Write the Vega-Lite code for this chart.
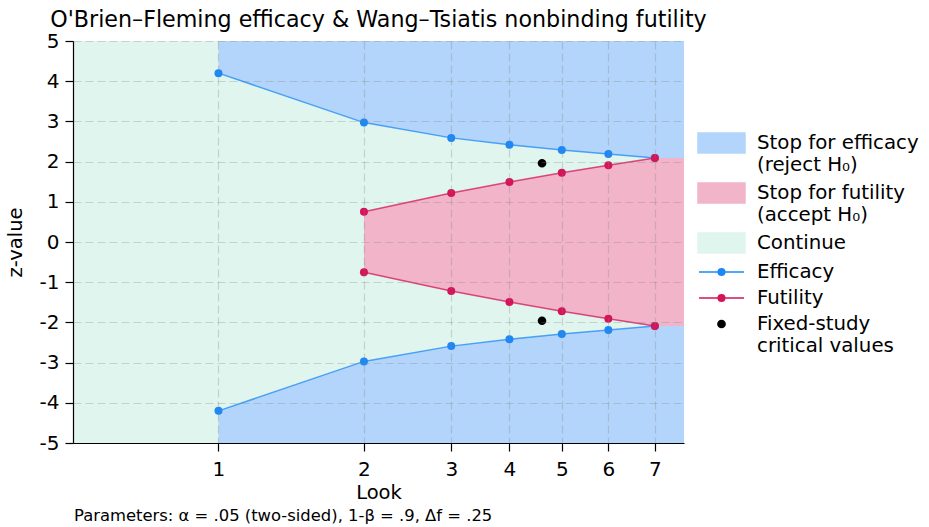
{
  "$schema": "https://vega.github.io/schema/vega-lite/v6.json",
  "background": "white",
  "padding": {"left": 5, "top": 8, "right": 5, "bottom": 5},
  "config": {
    "font": "DejaVu Sans",
    "view": {"stroke": null},
    "axis": {
      "labelFont": "DejaVu Sans",
      "titleFont": "DejaVu Sans",
      "labelFontSize": 20,
      "titleFontSize": 19.5,
      "titleFontWeight": "normal",
      "labelColor": "black",
      "titleColor": "black",
      "domainColor": "black",
      "domainWidth": 1.2,
      "tickColor": "black",
      "tickWidth": 1.2,
      "tickSize": 8,
      "labelPadding": 4,
      "grid": true,
      "gridDash": [8, 4],
      "gridColor": "#808080",
      "gridOpacity": 0.3,
      "gridWidth": 1.2
    },
    "legend": {
      "title": null,
      "orient": "none",
      "legendX": 637.5,
      "legendY": 91,
      "labelFont": "DejaVu Sans",
      "labelFontSize": 19.8,
      "labelColor": "black",
      "labelLimit": 400,
      "labelOffset": 24.5,
      "rowPadding": 5,
      "symbolSize": 400,
      "symbolStrokeWidth": 1.5,
      "symbolOpacity": 1
    }
  },
  "title": {
    "text": "Parameters: α = .05 (two-sided), 1-β = .9, Δf = .25",
    "orient": "bottom",
    "anchor": "start",
    "frame": "group",
    "font": "DejaVu Sans",
    "fontSize": 16.4,
    "fontWeight": "normal",
    "color": "black",
    "offset": 6,
    "dx": 1
  },
  "datasets": {
    "cont": [
      {"key": "Continue", "info": 0, "lo": -5, "hi": 5},
      {"key": "Continue", "info": 1.05, "lo": -5, "hi": 5}
    ],
    "regions": [
      {"key": "Stop for efficacy|(reject H₀)", "part": "upper", "info": 0.25, "lo": 4.20, "hi": 5},
      {"key": "Stop for efficacy|(reject H₀)", "part": "upper", "info": 0.50, "lo": 2.97, "hi": 5},
      {"key": "Stop for efficacy|(reject H₀)", "part": "upper", "info": 0.65, "lo": 2.59, "hi": 5},
      {"key": "Stop for efficacy|(reject H₀)", "part": "upper", "info": 0.75, "lo": 2.42, "hi": 5},
      {"key": "Stop for efficacy|(reject H₀)", "part": "upper", "info": 0.84, "lo": 2.29, "hi": 5},
      {"key": "Stop for efficacy|(reject H₀)", "part": "upper", "info": 0.92, "lo": 2.19, "hi": 5},
      {"key": "Stop for efficacy|(reject H₀)", "part": "upper", "info": 1.00, "lo": 2.09, "hi": 5},
      {"key": "Stop for efficacy|(reject H₀)", "part": "upper", "info": 1.05, "lo": 2.09, "hi": 5},
      {"key": "Stop for efficacy|(reject H₀)", "part": "lower", "info": 0.25, "lo": -5, "hi": -4.20},
      {"key": "Stop for efficacy|(reject H₀)", "part": "lower", "info": 0.50, "lo": -5, "hi": -2.97},
      {"key": "Stop for efficacy|(reject H₀)", "part": "lower", "info": 0.65, "lo": -5, "hi": -2.59},
      {"key": "Stop for efficacy|(reject H₀)", "part": "lower", "info": 0.75, "lo": -5, "hi": -2.42},
      {"key": "Stop for efficacy|(reject H₀)", "part": "lower", "info": 0.84, "lo": -5, "hi": -2.29},
      {"key": "Stop for efficacy|(reject H₀)", "part": "lower", "info": 0.92, "lo": -5, "hi": -2.19},
      {"key": "Stop for efficacy|(reject H₀)", "part": "lower", "info": 1.00, "lo": -5, "hi": -2.09},
      {"key": "Stop for efficacy|(reject H₀)", "part": "lower", "info": 1.05, "lo": -5, "hi": -2.09},
      {"key": "Stop for futility|(accept H₀)", "part": "mid", "info": 0.50, "lo": -0.75, "hi": 0.75},
      {"key": "Stop for futility|(accept H₀)", "part": "mid", "info": 0.65, "lo": -1.22, "hi": 1.22},
      {"key": "Stop for futility|(accept H₀)", "part": "mid", "info": 0.75, "lo": -1.49, "hi": 1.49},
      {"key": "Stop for futility|(accept H₀)", "part": "mid", "info": 0.84, "lo": -1.72, "hi": 1.72},
      {"key": "Stop for futility|(accept H₀)", "part": "mid", "info": 0.92, "lo": -1.91, "hi": 1.91},
      {"key": "Stop for futility|(accept H₀)", "part": "mid", "info": 1.00, "lo": -2.09, "hi": 2.09},
      {"key": "Stop for futility|(accept H₀)", "part": "mid", "info": 1.05, "lo": -2.09, "hi": 2.09}
    ],
    "bounds": [
      {"key": "Efficacy", "side": "upper", "look": 1, "info": 0.25, "z": 4.20},
      {"key": "Efficacy", "side": "upper", "look": 2, "info": 0.50, "z": 2.97},
      {"key": "Efficacy", "side": "upper", "look": 3, "info": 0.65, "z": 2.59},
      {"key": "Efficacy", "side": "upper", "look": 4, "info": 0.75, "z": 2.42},
      {"key": "Efficacy", "side": "upper", "look": 5, "info": 0.84, "z": 2.29},
      {"key": "Efficacy", "side": "upper", "look": 6, "info": 0.92, "z": 2.19},
      {"key": "Efficacy", "side": "upper", "look": 7, "info": 1.00, "z": 2.09},
      {"key": "Efficacy", "side": "lower", "look": 1, "info": 0.25, "z": -4.20},
      {"key": "Efficacy", "side": "lower", "look": 2, "info": 0.50, "z": -2.97},
      {"key": "Efficacy", "side": "lower", "look": 3, "info": 0.65, "z": -2.59},
      {"key": "Efficacy", "side": "lower", "look": 4, "info": 0.75, "z": -2.42},
      {"key": "Efficacy", "side": "lower", "look": 5, "info": 0.84, "z": -2.29},
      {"key": "Efficacy", "side": "lower", "look": 6, "info": 0.92, "z": -2.19},
      {"key": "Efficacy", "side": "lower", "look": 7, "info": 1.00, "z": -2.09},
      {"key": "Futility", "side": "upper", "look": 2, "info": 0.50, "z": 0.75},
      {"key": "Futility", "side": "upper", "look": 3, "info": 0.65, "z": 1.22},
      {"key": "Futility", "side": "upper", "look": 4, "info": 0.75, "z": 1.49},
      {"key": "Futility", "side": "upper", "look": 5, "info": 0.84, "z": 1.72},
      {"key": "Futility", "side": "upper", "look": 6, "info": 0.92, "z": 1.91},
      {"key": "Futility", "side": "upper", "look": 7, "info": 1.00, "z": 2.09},
      {"key": "Futility", "side": "lower", "look": 2, "info": 0.50, "z": -0.75},
      {"key": "Futility", "side": "lower", "look": 3, "info": 0.65, "z": -1.22},
      {"key": "Futility", "side": "lower", "look": 4, "info": 0.75, "z": -1.49},
      {"key": "Futility", "side": "lower", "look": 5, "info": 0.84, "z": -1.72},
      {"key": "Futility", "side": "lower", "look": 6, "info": 0.92, "z": -1.91},
      {"key": "Futility", "side": "lower", "look": 7, "info": 1.00, "z": -2.09}
    ],
    "fixed": [
      {"key": "Fixed-study|critical values", "info": 0.806, "z": 1.96},
      {"key": "Fixed-study|critical values", "info": 0.806, "z": -1.96}
    ]
  },
  "vconcat": [
    {
      "width": 611,
      "height": 402,
      "title": {
        "text": "O'Brien–Fleming efficacy & Wang–Tsiatis nonbinding futility",
        "anchor": "middle",
        "font": "DejaVu Sans",
        "fontSize": 22.2,
        "fontWeight": "normal",
        "color": "black",
        "offset": 0
      },
      "layer": [
        {
          "data": {"name": "cont"},
          "mark": {"type": "area", "opacity": 1},
          "encoding": {
            "x": {
              "field": "info",
              "type": "quantitative",
              "scale": {"domain": [0, 1.05], "nice": false, "zero": false},
              "axis": {
                "title": "Look",
                "values": [0.25, 0.5, 0.65, 0.75, 0.84, 0.92, 1],
                "labelExpr": "'' + (indexof([0.25, 0.5, 0.65, 0.75, 0.84, 0.92, 1], datum.value) + 1)",
                "labelPadding": 8,
                "titlePadding": 4,
                "zindex": 1
              }
            },
            "y": {
              "field": "lo",
              "type": "quantitative",
              "scale": {"domain": [-5, 5], "nice": false},
              "axis": {
                "title": "z-value",
                "values": [-5, -4, -3, -2, -1, 0, 1, 2, 3, 4, 5],
                "labelExpr": "replace(datum.label, '−', '-')",
                "labelPadding": 6,
                "titlePadding": 14,
                "zindex": 1
              }
            },
            "y2": {"field": "hi"},
            "color": {
              "field": "key",
              "type": "nominal",
              "scale": {
                "domain": ["Stop for efficacy|(reject H₀)", "Stop for futility|(accept H₀)", "Continue", "Efficacy", "Futility", "Fixed-study|critical values"],
                "range": ["#b3d5fb", "#f1b4c9", "#dff5ed", "#1e88f5", "#d5145a", "#000000"]
              },
              "legend": {
                "labelExpr": "split(datum.label, '|')"
              }
            }
          }
        },
        {
          "data": {"name": "regions"},
          "mark": {"type": "area", "opacity": 1},
          "encoding": {
            "x": {"field": "info", "type": "quantitative"},
            "y": {"field": "lo", "type": "quantitative"},
            "y2": {"field": "hi"},
            "color": {"field": "key", "type": "nominal"},
            "detail": {"field": "part"}
          }
        },
        {
          "data": {"name": "bounds"},
          "mark": {"type": "line", "strokeWidth": 1.5, "opacity": 0.75},
          "encoding": {
            "x": {"field": "info", "type": "quantitative"},
            "y": {"field": "z", "type": "quantitative"},
            "color": {"field": "key", "type": "nominal"},
            "detail": {"field": "side"}
          }
        },
        {
          "data": {"name": "bounds"},
          "mark": {"type": "point", "filled": true, "size": 64, "opacity": 1},
          "encoding": {
            "x": {"field": "info", "type": "quantitative"},
            "y": {"field": "z", "type": "quantitative"},
            "color": {"field": "key", "type": "nominal"}
          }
        },
        {
          "data": {"name": "fixed"},
          "mark": {"type": "point", "filled": true, "size": 570, "opacity": 1},
          "encoding": {
            "x": {"field": "info", "type": "quantitative"},
            "y": {"field": "z", "type": "quantitative"},
            "color": {"field": "key", "type": "nominal"},
            "shape": {
              "field": "key",
              "type": "nominal",
              "scale": {
                "domain": ["Stop for efficacy|(reject H₀)", "Stop for futility|(accept H₀)", "Continue", "Efficacy", "Futility", "Fixed-study|critical values"],
                "range": [
                  "M-2.35,-1H2.35V1H-2.35Z",
                  "M-2.35,-1H2.35V1H-2.35Z",
                  "M-2.35,-1H2.35V1H-2.35Z",
                  "M-2.25,0H2.25M-0.33,0A0.33,0.33 0 1,0 0.33,0A0.33,0.33 0 1,0 -0.33,0",
                  "M-2.25,0H2.25M-0.33,0A0.33,0.33 0 1,0 0.33,0A0.33,0.33 0 1,0 -0.33,0",
                  "M-0.36,0A0.36,0.36 0 1,0 0.36,0A0.36,0.36 0 1,0 -0.36,0"
                ]
              },
              "legend": {
                "labelExpr": "split(datum.label, '|')"
              }
            }
          }
        }
      ]
    }
  ]
}
